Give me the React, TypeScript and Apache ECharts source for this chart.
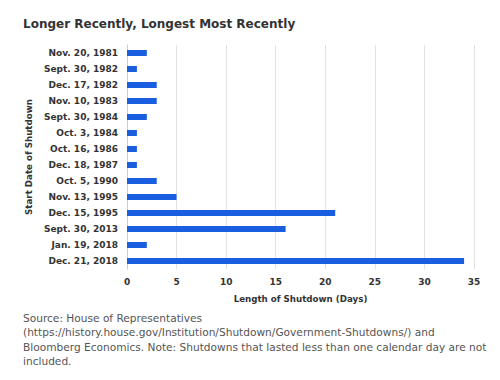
import React, { useEffect, useRef } from "react";
import * as echarts from "echarts";

const categories = [
  "Nov. 20, 1981",
  "Sept. 30, 1982",
  "Dec. 17, 1982",
  "Nov. 10, 1983",
  "Sept. 30, 1984",
  "Oct. 3, 1984",
  "Oct. 16, 1986",
  "Dec. 18, 1987",
  "Oct. 5, 1990",
  "Nov. 13, 1995",
  "Dec. 15, 1995",
  "Sept. 30, 2013",
  "Jan. 19, 2018",
  "Dec. 21, 2018",
];
const days = [2, 1, 3, 3, 2, 1, 1, 1, 3, 5, 21, 16, 2, 34];

const titleText = "Longer Recently, Longest Most Recently";
const sourceLines = [
  "Source: House of Representatives",
  "(https://history.house.gov/Institution/Shutdown/Government-Shutdowns/) and",
  "Bloomberg Economics. Note: Shutdowns that lasted less than one calendar day are not",
  "included.",
];

const FONT = "DejaVu Sans";

export default function App() {
  const ref = useRef<HTMLDivElement>(null);
  useEffect(() => {
    if (!ref.current) return;
    const chart = echarts.init(ref.current, null, { renderer: "svg" });
    chart.setOption({
      animation: false,
      backgroundColor: "#ffffff",
      textStyle: { fontFamily: FONT },
      title: {
        text: titleText,
        left: 18,
        top: 13,
        textStyle: { fontFamily: FONT, fontSize: 12, fontWeight: "bold", color: "#333333" },
      },
      grid: { left: 127, right: 26, top: 45, bottom: 111, containLabel: false },
      xAxis: {
        type: "value",
        min: 0,
        max: 35,
        interval: 5,
        name: "Length of Shutdown (Days)",
        nameLocation: "middle",
        nameGap: 25,
        nameTextStyle: { fontFamily: FONT, fontSize: 8.7, fontWeight: "bold", color: "#333333" },
        axisLine: { show: false },
        axisTick: { show: false },
        axisLabel: { fontFamily: FONT, fontSize: 9, fontWeight: "bold", color: "#333333", margin: 8 },
        splitLine: { show: true, lineStyle: { color: "#e2e2e2", width: 1 } },
      },
      yAxis: {
        type: "category",
        data: categories,
        inverse: true,
        name: "Start Date of Shutdown",
        nameLocation: "middle",
        nameGap: 88,
        nameRotate: 90,
        nameTextStyle: { fontFamily: FONT, fontSize: 8.7, fontWeight: "bold", color: "#333333" },
        axisLine: { show: true, lineStyle: { color: "#cccccc" } },
        axisTick: { show: false },
        axisLabel: { fontFamily: FONT, fontSize: 9, fontWeight: "bold", color: "#333333", margin: 9 },
      },
      series: [
        {
          type: "bar",
          data: days,
          barWidth: 6,
          itemStyle: { color: "#1a5ee0" },
        },
      ],
      graphic: sourceLines.map((line, i) => ({
        type: "text",
        left: 23,
        top: 312 + i * 14.5,
        style: { text: line, fontFamily: FONT, fontSize: 10.6, fill: "#555555" },
      })),
    });
    return () => chart.dispose();
  }, []);
  return (
    <div
      ref={ref}
      style={{ position: "fixed", left: 0, top: 0, width: 500, height: 380 }}
    />
  );
}
